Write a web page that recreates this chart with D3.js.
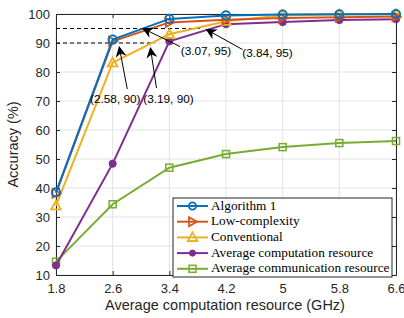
<!DOCTYPE html>
<html>
<head>
<meta charset="utf-8">
<script src="https://cdn.jsdelivr.net/npm/d3@7"></script>
<style>
  body { margin: 0; background: #fff; }
  svg { display: block; }
</style>
</head>
<body>
<div id="chart"></div>
<script>
let w = 404;
let h = 318;

// data
let xValues = [1.8, 2.6, 3.4, 4.2, 5, 5.8, 6.6];
let yTicks = [10, 20, 30, 40, 50, 60, 70, 80, 90, 100];
let algorithm1 = [38.5, 91.2, 98.3, 99.5, 99.8, 99.9, 100];
let lowComplexity = [38.2, 90.6, 97.1, 98.0, 98.6, 98.9, 99.1];
let conventional = [33.9, 83.2, 93.0, 97.5, 99.6, 99.8, 99.9];
let avgComputation = [13.3, 48.4, 90.6, 96.5, 97.2, 97.9, 98.2];
let avgCommunication = [14.6, 34.4, 47.0, 51.7, 54.1, 55.5, 56.2];
let seriesNames = ["Algorithm 1", "Low-complexity", "Conventional",
  "Average computation resource", "Average communication resource"];
let annotations = [
  { x: 2.58, y: 90, label: "(2.58, 90)" },
  { x: 3.19, y: 90, label: "(3.19, 90)" },
  { x: 3.07, y: 95, label: "(3.07, 95)" },
  { x: 3.84, y: 95, label: "(3.84, 95)" }
];

let series = [
  { name: seriesNames[0], values: algorithm1, color: "#0072BD", marker: "circle" },
  { name: seriesNames[1], values: lowComplexity, color: "#D95319", marker: "right" },
  { name: seriesNames[2], values: conventional, color: "#EDB120", marker: "triangle" },
  { name: seriesNames[3], values: avgComputation, color: "#7E2F8E", marker: "dot" },
  { name: seriesNames[4], values: avgCommunication, color: "#77AC30", marker: "square" }
];

// arrow layout in pixels relative to the annotated point
let annoLayout = [
  { head: [8, 4], tail: [16, 46], text: [4, 57] },
  { head: [-4, 5], tail: [2, 45], text: [14, 57] },
  { head: [-3, 0], tail: [34, 18], text: [60, 23] },
  { head: [6, 1], tail: [42, 21], text: [67, 25] }
];

let margin = { left: 56, right: 8, top: 14, bottom: 43 };
let plotW = w - margin.left - margin.right;
let plotH = h - margin.top - margin.bottom;

let xScale = d3.scaleLinear().domain([1.8, 6.6]).range([0, plotW]);
let yScale = d3.scaleLinear().domain([10, 100]).range([plotH, 0]);

let svg = d3.select("#chart")
  .append("svg")
  .attr("width", w)
  .attr("height", h)
  .style("font-family", "'Liberation Sans', Arial, sans-serif");

let defs = svg.append("defs");
defs.append("marker")
  .attr("id", "arrowHead")
  .attr("viewBox", "0 0 10 10")
  .attr("refX", 9)
  .attr("refY", 5)
  .attr("markerWidth", 11)
  .attr("markerHeight", 11)
  .attr("markerUnits", "userSpaceOnUse")
  .attr("orient", "auto")
  .append("path")
  .attr("d", "M0,0 L10,5 L0,10 L3,5 Z")
  .attr("fill", "#000");

let g = svg.append("g")
  .attr("transform", "translate(" + margin.left + "," + margin.top + ")");

// grid
g.append("g").selectAll("line")
  .data(xValues)
  .join("line")
  .attr("x1", d => xScale(d)).attr("x2", d => xScale(d))
  .attr("y1", 0).attr("y2", plotH)
  .attr("stroke", "#e3e3e3").attr("stroke-width", 1);
g.append("g").selectAll("line")
  .data(yTicks)
  .join("line")
  .attr("x1", 0).attr("x2", plotW)
  .attr("y1", d => yScale(d)).attr("y2", d => yScale(d))
  .attr("stroke", "#e3e3e3").attr("stroke-width", 1);

// axes (ticks inward, mirrored)
let axisColor = "#262626";
let xAxisB = g.append("g")
  .attr("transform", "translate(0," + plotH + ")")
  .call(d3.axisBottom(xScale).tickValues(xValues).tickSize(-4).tickPadding(9)
    .tickFormat(d => String(d)));
let xAxisT = g.append("g")
  .call(d3.axisTop(xScale).tickValues(xValues).tickSize(-4).tickFormat(""));
let yAxisL = g.append("g")
  .call(d3.axisLeft(yScale).tickValues(yTicks).tickSize(-4).tickPadding(6));
let yAxisR = g.append("g")
  .attr("transform", "translate(" + plotW + ",0)")
  .call(d3.axisRight(yScale).tickValues(yTicks).tickSize(-4).tickFormat(""));

[xAxisB, xAxisT, yAxisL, yAxisR].forEach(a => {
  a.select(".domain").attr("stroke", axisColor).attr("stroke-width", 1);
  a.selectAll(".tick line").attr("stroke", axisColor);
  a.selectAll(".tick text")
    .attr("fill", axisColor)
    .style("font-size", "13px")
    .style("font-family", "'Liberation Sans', Arial, sans-serif");
});

// dashed reference lines
let dashData = [annotations[1], annotations[3]];
g.append("g").selectAll("line")
  .data(dashData)
  .join("line")
  .attr("x1", 0)
  .attr("x2", d => xScale(d.x))
  .attr("y1", d => yScale(d.y))
  .attr("y2", d => yScale(d.y))
  .attr("stroke", "#000")
  .attr("stroke-width", 1)
  .attr("stroke-dasharray", "4,3");

// lines and markers
function drawMarker(sel, type, color, size) {
  let s = size || 1;
  if (type == "circle") {
    sel.append("circle").attr("r", 4.2 * s)
      .attr("fill", "none").attr("stroke", color).attr("stroke-width", 1.8);
  } else if (type == "dot") {
    sel.append("circle").attr("r", 3.6 * s)
      .attr("fill", color).attr("stroke", color).attr("stroke-width", 1);
  } else if (type == "right") {
    sel.append("path").attr("d", "M-3.5,-4.5 L4.5,0 L-3.5,4.5 Z")
      .attr("fill", "none").attr("stroke", color).attr("stroke-width", 1.8);
  } else if (type == "triangle") {
    sel.append("path").attr("d", "M0,-5 L4.8,3.6 L-4.8,3.6 Z")
      .attr("fill", "none").attr("stroke", color).attr("stroke-width", 1.8);
  } else if (type == "square") {
    sel.append("rect").attr("x", -3.5).attr("y", -3.5).attr("width", 7).attr("height", 7)
      .attr("fill", "none").attr("stroke", color).attr("stroke-width", 1.5);
  }
}

let line = d3.line()
  .x((d, i) => xScale(xValues[i]))
  .y(d => yScale(d));

let seriesGroups = g.append("g").selectAll("g")
  .data(series.slice().reverse())
  .join("g");

seriesGroups.append("path")
  .attr("d", d => line(d.values))
  .attr("fill", "none")
  .attr("stroke", d => d.color)
  .attr("stroke-width", 2);

seriesGroups.each(function (s) {
  d3.select(this).selectAll(".pt")
    .data(s.values)
    .join("g")
    .attr("class", "pt")
    .attr("transform", (d, i) => "translate(" + xScale(xValues[i]) + "," + yScale(d) + ")")
    .each(function () { drawMarker(d3.select(this), s.marker, s.color); });
});

// annotations
let annoGroup = g.append("g");
annotations.forEach((a, i) => {
  let px = xScale(a.x);
  let py = yScale(a.y);
  let lay = annoLayout[i];
  annoGroup.append("line")
    .attr("x1", px + lay.tail[0]).attr("y1", py + lay.tail[1])
    .attr("x2", px + lay.head[0]).attr("y2", py + lay.head[1])
    .attr("stroke", "#000").attr("stroke-width", 1)
    .attr("marker-end", "url(#arrowHead)");
  annoGroup.append("text")
    .attr("x", px + lay.text[0])
    .attr("y", py + lay.text[1])
    .attr("text-anchor", "middle")
    .attr("dominant-baseline", "middle")
    .attr("fill", "#000")
    .style("font-size", "11.8px")
    .text(a.label);
});

// legend
let legX = 117, legY = 184, legW = 219, legH = 79;
let legend = g.append("g").attr("transform", "translate(" + legX + "," + legY + ")");
legend.append("rect")
  .attr("width", legW).attr("height", legH)
  .attr("fill", "#fff").attr("stroke", "#262626").attr("stroke-width", 1);
let legRows = legend.selectAll(".row")
  .data(series)
  .join("g")
  .attr("class", "row")
  .attr("transform", (d, i) => "translate(0," + (8 + i * 15.7) + ")");
legRows.append("line")
  .attr("x1", 4).attr("x2", 35)
  .attr("stroke", d => d.color).attr("stroke-width", 2);
legRows.each(function (s) {
  let m = d3.select(this).append("g").attr("transform", "translate(19.5,0)");
  drawMarker(m, s.marker, s.color, 0.85);
});
legRows.append("text")
  .attr("x", 38)
  .attr("y", 0.5)
  .attr("dominant-baseline", "middle")
  .style("font-family", "'Liberation Serif', 'Times New Roman', serif")
  .style("font-size", "13.3px")
  .attr("fill", "#000")
  .text(d => d.name);

// axis titles
svg.append("text")
  .attr("x", margin.left + plotW / 2 - 1)
  .attr("y", 310)
  .attr("text-anchor", "middle")
  .attr("fill", axisColor)
  .style("font-size", "14.5px")
  .text("Average computation resource (GHz)");
svg.append("text")
  .attr("transform", "translate(18," + (margin.top + plotH / 2) + ") rotate(-90)")
  .attr("text-anchor", "middle")
  .attr("fill", axisColor)
  .style("font-size", "14.5px")
  .text("Accuracy (%)");
</script>
</body>
</html>
